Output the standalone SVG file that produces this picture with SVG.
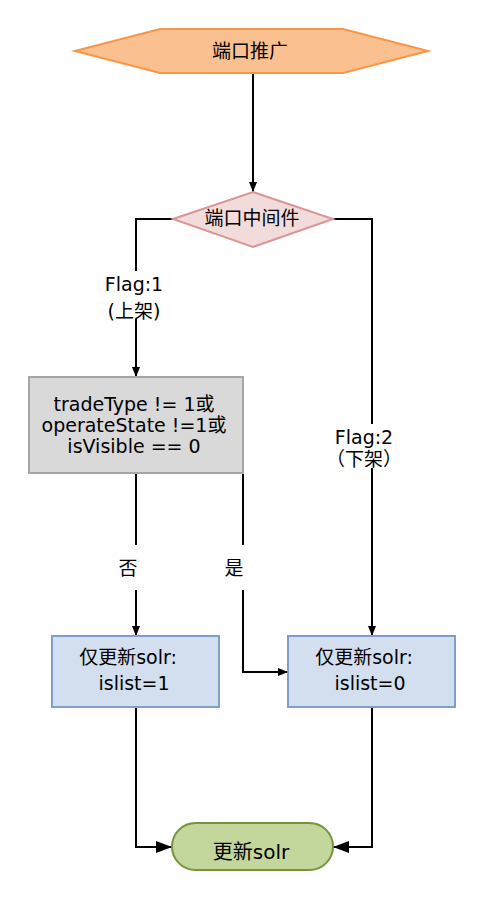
<svg xmlns="http://www.w3.org/2000/svg" width="483" height="899" viewBox="0 0 483 899">
<defs>
<marker id="arr" viewBox="0 0 10 10" refX="10" refY="5" markerWidth="10" markerHeight="10" markerUnits="userSpaceOnUse" orient="auto">
<path d="M0,1 L10,5 L0,9 Z" fill="#000"/>
</marker>
<marker id="arrB" viewBox="0 0 16 12" refX="16" refY="6" markerWidth="16" markerHeight="12" markerUnits="userSpaceOnUse" orient="auto">
<path d="M0,0 L16,6 L0,12 Z" fill="#000"/>
</marker>
</defs>
<style>
text{font-family:"DejaVu Sans","Noto Sans CJK SC",sans-serif;font-size:19px;fill:#000;text-anchor:middle;dominant-baseline:central}
.ln{fill:none;stroke:#000;stroke-width:2}
.lbl{fill:#fff}
</style>
<rect width="483" height="899" fill="#fff"/>
<g id="connectors">
<path class="ln" d="M253,73 L253,192" marker-end="url(#arr)"/>
<path class="ln" d="M173,219 L136,219 L136,377" marker-end="url(#arr)"/>
<path class="ln" d="M333,219 L372,219 L372,636" marker-end="url(#arr)"/>
<path class="ln" d="M136,473 L136,636" marker-end="url(#arr)"/>
<path class="ln" d="M243,473 L243,672 L288,672" marker-end="url(#arr)"/>
<path class="ln" d="M136,707 L136,847 L172,847" marker-end="url(#arrB)"/>
<path class="ln" d="M372,707 L372,847 L333,847" marker-end="url(#arrB)"/>
<rect class="lbl" x="98" y="271" width="74" height="48"/>
<text x="134" y="284">Flag:1</text>
<text x="134" y="311">(上架)</text>
<rect class="lbl" x="328" y="424" width="74" height="44"/>
<text x="364" y="437">Flag:2</text>
<text x="364" y="459">（下架）</text>
<rect class="lbl" x="116" y="545" width="30" height="45"/>
<text x="128" y="568">否</text>
<rect class="lbl" x="222" y="545" width="30" height="45"/>
<text x="234" y="568">是</text>
</g>
<g id="start">
<polygon points="75,51 160,29 343,29 428,51 343,73 160,73" fill="#fac08f" stroke="#f79646" stroke-width="2"/>
<text x="250" y="51">端口推广</text>
</g>
<g id="middleware">
<polygon points="173,219 253,192 333,219 253,247" fill="#f2dcdb" stroke="#d99694" stroke-width="2"/>
<text x="252" y="218">端口中间件</text>
</g>
<g id="condition">
<rect x="29" y="377" width="214" height="96" fill="#d9d9d9" stroke="#a6a6a6" stroke-width="2"/>
<text x="134" y="404">tradeType != 1或</text>
<text x="134" y="425">operateState !=1或</text>
<text x="134" y="446">isVisible == 0</text>
</g>
<g id="update1">
<rect x="52" y="636" width="167" height="71" fill="#d3dfee" stroke="#7f9fc9" stroke-width="2"/>
<text x="128" y="657">仅更新solr:</text>
<text x="134" y="683">islist=1</text>
</g>
<g id="update0">
<rect x="288" y="636" width="167" height="71" fill="#d3dfee" stroke="#7f9fc9" stroke-width="2"/>
<text x="364" y="657">仅更新solr:</text>
<text x="370" y="683">islist=0</text>
</g>
<g id="end">
<rect x="172" y="823" width="161" height="47" rx="23.5" ry="23.5" fill="#c3d69b" stroke="#77933c" stroke-width="2"/>
<text x="251" y="852" style="font-size:20px">更新solr</text>
</g>
</svg>
